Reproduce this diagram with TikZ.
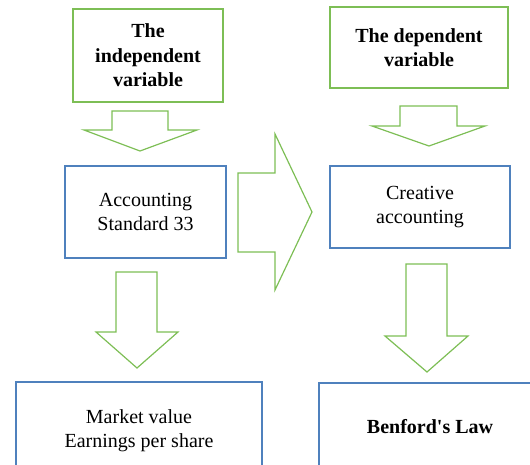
\documentclass[tikz,border=0pt]{standalone}
\usepackage{fontspec}
\setmainfont{Liberation Serif}
\usetikzlibrary{positioning}

\definecolor{boxgreen}{RGB}{125,190,85}
\definecolor{boxblue}{RGB}{79,129,189}

\begin{document}
\begin{tikzpicture}[x=1pt, y=-1pt]

\clip (0,0) rectangle (530,465);

\begin{scope}[every node/.style={rectangle,fill=white,align=center,
                                 font=\fontsize{20}{24.5}\selectfont}]
    \node (indep) at (148, 55.5) [draw=boxgreen, line width=1.8pt,
        minimum width=150pt, minimum height=93pt] {\textbf{The}\\\textbf{independent}\\\textbf{variable}};
    \node (dep) at (419, 47.5) [draw=boxgreen, line width=1.8pt,
        minimum width=178pt, minimum height=81pt] {\textbf{The dependent}\\\textbf{variable}};

    \node (standard) at (145.5, 212) [draw=boxblue, line width=1.5pt,
        minimum width=161pt, minimum height=92pt] {Accounting\\Standard 33};
    \node (creative) at (420, 207) [draw=boxblue, line width=1.5pt,
        minimum width=180pt, minimum height=82pt] {Creative\\accounting};

    \node (market) at (139, 430.5) [draw=boxblue, line width=1.5pt,
        minimum width=246pt, minimum height=97pt] {Market value\\Earnings per share};
    \node (benford) at (430, 427) [draw=boxblue, line width=1.5pt,
        minimum width=222pt, minimum height=88pt] {\textbf{Benford\textquotesingle s Law}};
\end{scope}

\begin{scope}[every path/.style={draw=boxgreen, line width=1.2pt, line join=miter}]
    % down arrows
    \draw (112,111) -- (168,111) -- (168,130) -- (197,130) -- (140,151)
          -- (84,130) -- (112,130) -- cycle;
    \draw (400,106) -- (457,106) -- (457,126) -- (485,126) -- (429,146)
          -- (372,126) -- (400,126) -- cycle;
    \draw (116,272) -- (157,272) -- (157,332) -- (178,332) -- (137,368)
          -- (96,332) -- (116,332) -- cycle;
    \draw (406,264) -- (447,264) -- (447,336) -- (468,336) -- (427,372)
          -- (385,336) -- (406,336) -- cycle;

    % right arrow
    \draw (238,173) -- (275,173) -- (275,134) -- (312,212) -- (275,290)
          -- (275,252) -- (238,252) -- cycle;
\end{scope}

\end{tikzpicture}
\end{document}
